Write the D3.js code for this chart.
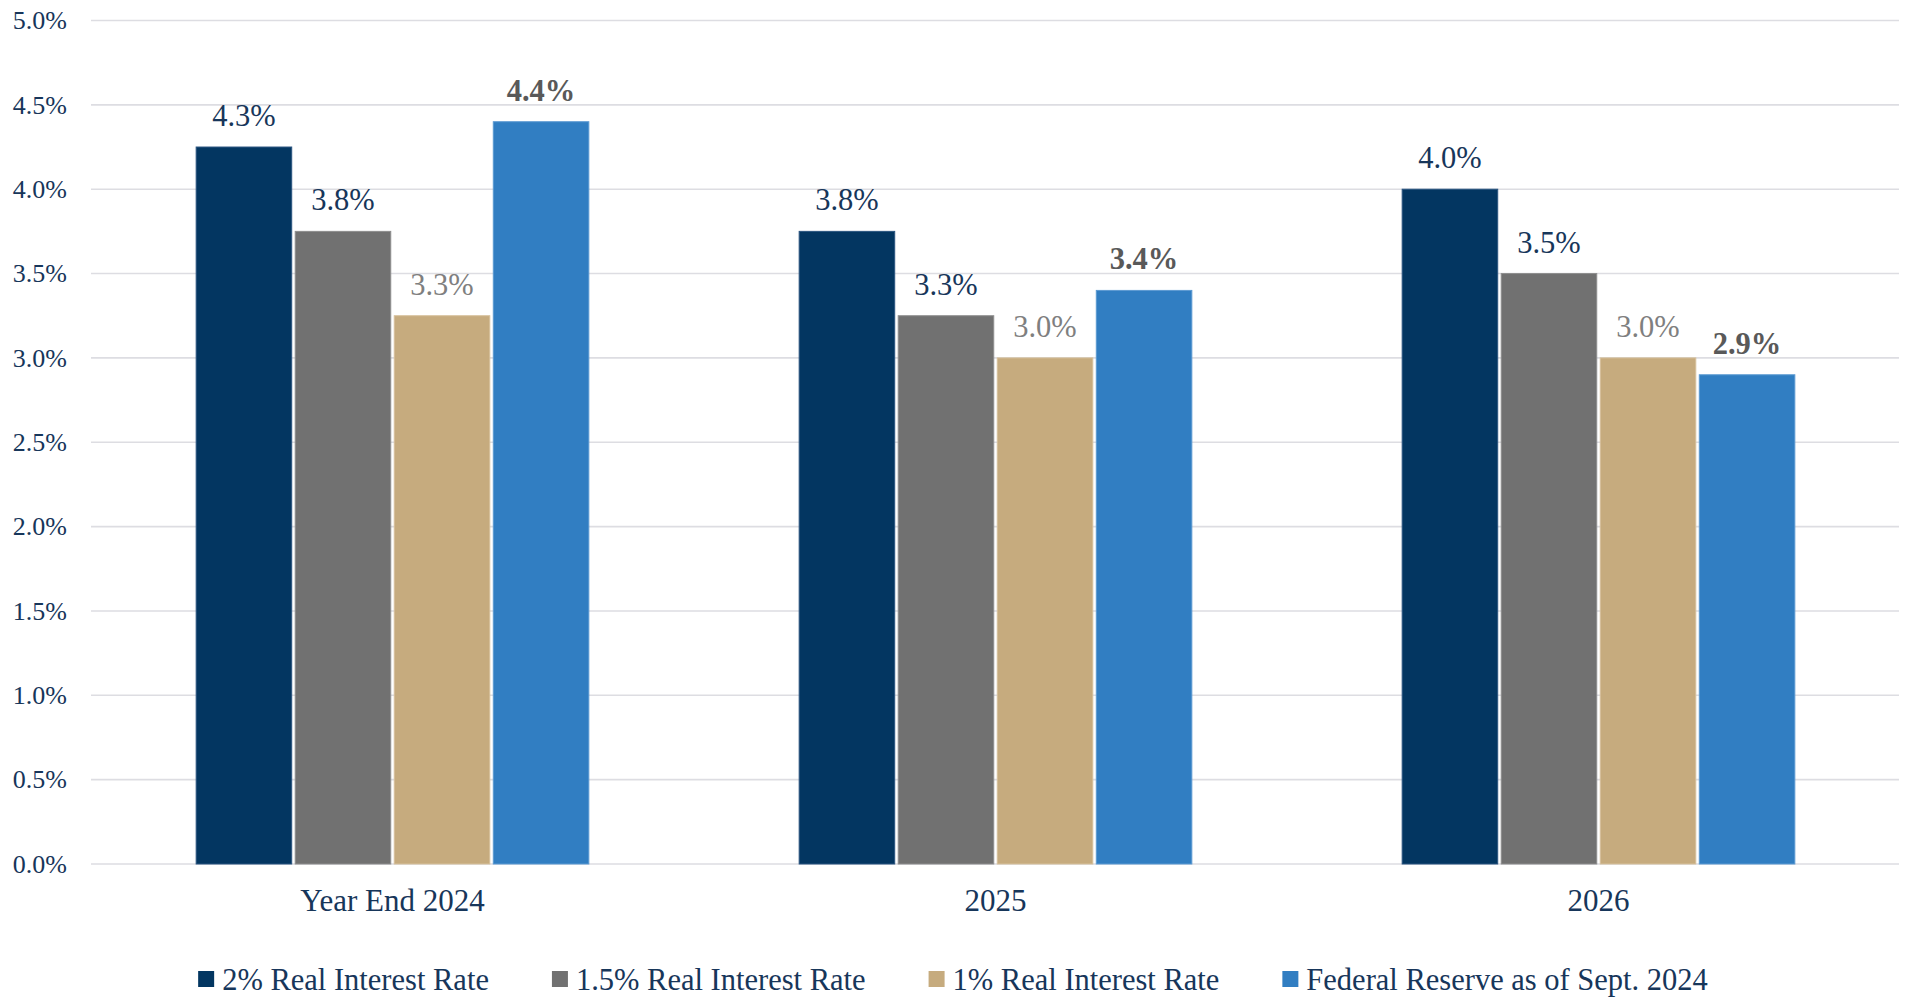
<!DOCTYPE html>
<html>
<head>
<meta charset="utf-8">
<script src="https://cdn.jsdelivr.net/npm/d3@7"></script>
<style>
  html, body { margin: 0; padding: 0; background: #ffffff; }
  svg { display: block; }
  text { font-family: "Liberation Serif", "DejaVu Serif", serif; }
</style>
</head>
<body>
<svg id="chart" width="1906" height="997"></svg>
<script>
// ---- data ----
const categories = ["Year End 2024", "2025", "2026"];
const seriesNames = ["2% Real Interest Rate", "1.5% Real Interest Rate", "1% Real Interest Rate", "Federal Reserve as of Sept. 2024"];
const series2pct   = [4.25, 3.75, 4.0];
const series15pct  = [3.75, 3.25, 3.5];
const series1pct   = [3.25, 3.0, 3.0];
const seriesFed    = [4.4, 3.4, 2.9];
const yTicks = [0, 0.5, 1.0, 1.5, 2.0, 2.5, 3.0, 3.5, 4.0, 4.5, 5.0];

// ---- styles ----
const barColors   = ["#033661", "#717171", "#C6AB7E", "#317EC2"];
const edgeColors  = ["#2A5580", "#8E8E8E", "#D6C09C", "#5C9AD2"];
const labelColors = ["#17365A", "#17365A", "#7F7F7F", "#595959"];
const labelWeights = ["normal", "normal", "normal", "bold"];
const textColor = "#17365A";

const allSeries = [series2pct, series15pct, series1pct, seriesFed];

const svg = d3.select("#chart");
const plotLeft = 91, plotRight = 1900, plotTop = 20.5, plotBottom = 864;

const x0 = d3.scaleBand().domain(categories).range([plotLeft, plotRight]).paddingInner(0.343).paddingOuter(0.1715);
const x1 = d3.scaleBand().domain(d3.range(seriesNames.length)).range([0, x0.bandwidth()]).padding(0);
const y = d3.scaleLinear().domain([0, 5]).range([plotBottom, plotTop]);

// gridlines
svg.append("g").selectAll("line").data(yTicks).join("line")
  .attr("x1", plotLeft).attr("x2", plotRight - 1)
  .attr("y1", d => y(d)).attr("y2", d => y(d))
  .attr("stroke", "#DDDDE2").attr("stroke-width", 1.6);

// y axis labels
const yAxis = d3.axisLeft(y).tickValues(yTicks).tickFormat(d => d3.format(".1f")(d) + "%").tickSize(0).tickPadding(24);
const gy = svg.append("g").attr("transform", `translate(${plotLeft},0)`).call(yAxis);
gy.select(".domain").remove();
gy.selectAll("text").attr("fill", textColor).style("font-size", "26px").style("font-family", "Liberation Serif, serif");

// bars
const groups = svg.append("g").selectAll("g").data(categories).join("g")
  .attr("transform", d => `translate(${x0(d)},0)`);

groups.each(function(cat, ci) {
  const g = d3.select(this);
  allSeries.forEach((s, si) => {
    const v = s[ci];
    const bx = x1(si) + 1.75;
    const bw = x1.bandwidth() - 3.5;
    g.append("rect")
      .attr("x", bx).attr("width", bw)
      .attr("y", y(v)).attr("height", y(0) - y(v))
      .attr("fill", barColors[si])
      .attr("stroke", edgeColors[si]).attr("stroke-width", 1);
    g.append("text")
      .attr("x", x1(si) + x1.bandwidth() / 2)
      .attr("y", y(v) - 21)
      .attr("text-anchor", "middle")
      .attr("fill", labelColors[si])
      .attr("font-weight", labelWeights[si])
      .style("font-size", "30.5px")
      .text(d3.format(".1f")(v) + "%");
  });
});

// x axis category labels
const xAxis = d3.axisBottom(x0).tickSize(0).tickPadding(25);
const gx = svg.append("g").attr("transform", `translate(0,${plotBottom})`).call(xAxis);
gx.select(".domain").remove();
gx.selectAll("text").attr("fill", textColor).style("font-size", "31px").style("font-family", "Liberation Serif, serif");

// legend
const legend = svg.append("g");
const items = legend.selectAll("g").data(seriesNames).join("g");
items.append("rect").attr("width", 16).attr("height", 16).attr("y", -8)
  .attr("fill", (d, i) => barColors[i]);
items.append("text").attr("x", 24).attr("y", 0).attr("dy", "0.35em")
  .attr("fill", textColor).style("font-size", "30.5px").text(d => d);
let cx = 0;
const widths = [];
items.each(function() {
  const w = d3.select(this).select("text").node().getComputedTextLength();
  widths.push(24 + w);
});
items.attr("transform", (d, i) => {
  const t = `translate(${cx},0)`;
  cx += widths[i] + 63;
  return t;
});
const total = cx - 63;
legend.attr("transform", `translate(${953 - total / 2},979)`);
</script>
</body>
</html>
